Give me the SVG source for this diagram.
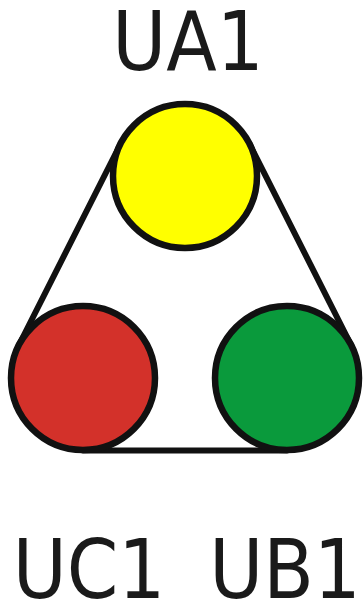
<svg xmlns="http://www.w3.org/2000/svg" width="363" height="605" viewBox="0 0 363 605">
<style>
.lbl{font-family:"DejaVu Sans Condensed","DejaVu Sans",sans-serif;font-size:82px;fill:#1a1a1a;text-anchor:middle}
.c{stroke:#111;stroke-width:6.5}
.belt{stroke:#111;stroke-width:6;fill:none;stroke-linecap:round}
</style>
<rect width="363" height="605" fill="#fff"/>
<g id="connectors">
<line class="belt" x1="120.7" y1="143.5" x2="18.7" y2="345.5"/>
<line class="belt" x1="249.3" y1="143.5" x2="351.3" y2="345.5"/>
<line class="belt" x1="83" y1="450.5" x2="287" y2="450.5"/>
</g>
<g id="UA1">
<circle class="c" cx="185" cy="176" r="72" fill="#ffff00"/>
<text class="lbl" x="188" y="70">UA1</text>
</g>
<g id="UC1">
<circle class="c" cx="83" cy="378" r="72" fill="#d3312a"/>
<text class="lbl" x="89" y="598">UC1</text>
</g>
<g id="UB1">
<circle class="c" cx="287" cy="378" r="72" fill="#0a9a3c"/>
<text class="lbl" x="285" y="598">UB1</text>
</g>
</svg>
